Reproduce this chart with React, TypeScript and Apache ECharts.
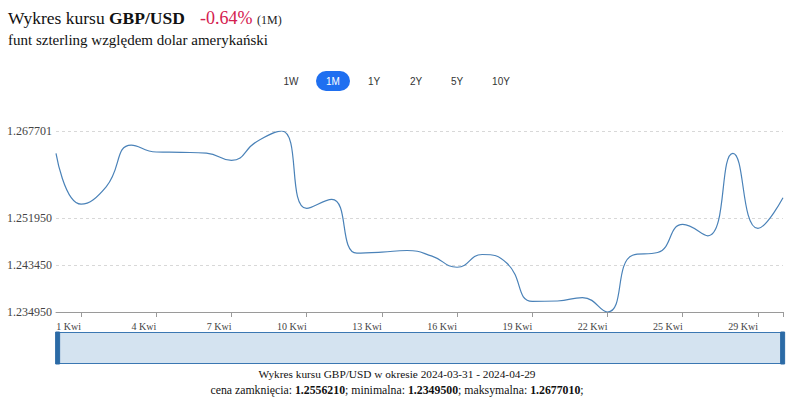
import React, { useEffect, useRef } from "react";
import * as echarts from "echarts";

const categories: string[] = [
  "31 Mar", "1 Kwi", "2 Kwi", "3 Kwi", "4 Kwi", "5 Kwi", "6 Kwi", "7 Kwi", "8 Kwi", "9 Kwi",
  "10 Kwi", "11 Kwi", "12 Kwi", "13 Kwi", "14 Kwi", "15 Kwi", "16 Kwi", "17 Kwi", "18 Kwi", "19 Kwi",
  "20 Kwi", "21 Kwi", "22 Kwi", "23 Kwi", "24 Kwi", "25 Kwi", "26 Kwi", "28 Kwi", "29 Kwi", "30 Kwi",
];

const rates: number[] = [
  1.26366, 1.25447, 1.25761, 1.26516, 1.2639, 1.26384, 1.26371, 1.26239, 1.26576, 1.267701,
  1.25369, 1.25532, 1.24559, 1.24577, 1.24608, 1.24505, 1.24305, 1.24535, 1.24372, 1.23689,
  1.23694, 1.23756, 1.23495, 1.24523, 1.24572, 1.25079, 1.24873, 1.26366, 1.25007, 1.255621,
];

const yTicks: number[] = [1.23495, 1.24345, 1.25195, 1.267701];
const yMin = 1.23495;
const yMax = 1.267701;

const rangeButtons: string[] = ["1W", "1M", "1Y", "2Y", "5Y", "10Y"];
const activeButton = "1M";

const SERIF = "'Liberation Serif', 'DejaVu Serif', serif";
const SANS = "'Liberation Sans', Arial, sans-serif";

export default function App() {
  const ref = useRef<HTMLDivElement>(null);

  useEffect(() => {
    if (!ref.current) return;
    const chart = echarts.init(ref.current, undefined, { renderer: "svg" });

    const btnCenters = [291, 333, 374, 416, 457, 501];
    const buttonGraphics: any[] = [];
    rangeButtons.forEach((b, i) => {
      const active = b === activeButton;
      if (active) {
        buttonGraphics.push({
          type: "rect",
          shape: { x: btnCenters[i] - 17, y: 71, width: 34, height: 20, r: 10 },
          style: { fill: "#1f6ff0" },
        });
      }
      buttonGraphics.push({
        type: "text",
        style: {
          x: btnCenters[i],
          y: 81,
          text: b,
          fill: active ? "#ffffff" : "#333333",
          font: `10px ${SANS}`,
          align: "center",
          verticalAlign: "middle",
        },
      });
    });

    const option: any = {
      animation: false,
      backgroundColor: "#ffffff",
      grid: { left: 56, right: 22, top: 131, bottom: 95, containLabel: false },
      xAxis: {
        type: "category",
        data: categories,
        boundaryGap: false,
        axisLine: { lineStyle: { color: "#9a9a9a", width: 1 } },
        axisTick: {
          lineStyle: { color: "#9a9a9a" },
          length: 5,
          interval: (i: number) => i === categories.length - 1 || (i >= 1 && (i - 1) % 3 === 0),
        },
        axisLabel: {
          interval: (i: number) => i >= 1 && (i - 1) % 3 === 0,
          align: "right",
          color: "#444",
          fontFamily: SERIF,
          fontSize: 10,
          margin: 9,
        },
        splitLine: { show: false },
      },
      yAxis: {
        type: "value",
        min: yMin,
        max: yMax,
        axisLine: { show: false },
        axisTick: { show: false, customValues: yTicks },
        axisLabel: {
          customValues: yTicks,
          formatter: (v: number) => v.toFixed(6),
          color: "#444",
          fontFamily: SERIF,
          fontSize: 12,
          margin: 4,
        },
        splitLine: { lineStyle: { color: "#d8d8d8", type: [3, 3] } },
      },
      dataZoom: [
        {
          type: "slider",
          xAxisIndex: 0,
          start: 0,
          end: 100,
          left: 56,
          right: 22,
          top: 332,
          height: 32,
          showDataShadow: false,
          showDetail: false,
          brushSelect: false,
          moveHandleSize: 0,
          backgroundColor: "rgba(0,0,0,0)",
          borderColor: "#3a77b2",
          fillerColor: "rgba(170,200,226,0.5)",
          handleIcon: "path://M0,0 L4,0 L4,32 L0,32 Z",
          handleSize: "100%",
          handleStyle: { color: "#2c6ba6", borderColor: "#2c6ba6" },
          dataBackground: { lineStyle: { opacity: 0 }, areaStyle: { opacity: 0 } },
        },
      ],
      series: [
        {
          type: "line",
          data: rates,
          smooth: true,
          symbol: "none",
          lineStyle: { color: "#4a82b8", width: 1.2 },
        },
      ],
      graphic: [
        {
          type: "text",
          left: 8,
          top: 9,
          style: {
            text: "{a|Wykres kursu }{b|GBP/USD}",
            rich: {
              a: { fontFamily: SERIF, fontSize: 17.5, fill: "#111" },
              b: { fontFamily: SERIF, fontSize: 17.5, fontWeight: "bold", fill: "#111" },
            },
          },
        },
        {
          type: "text",
          left: 200,
          top: 9,
          style: {
            text: "-0.64%",
            font: `18px ${SERIF}`,
            fill: "#d4204f",
          },
        },
        {
          type: "text",
          left: 257,
          top: 14,
          style: {
            text: "(1M)",
            font: `12px ${SERIF}`,
            fill: "#222",
          },
        },
        {
          type: "text",
          left: 8,
          top: 32,
          style: {
            text: "funt szterling względem dolar amerykański",
            font: `15px ${SERIF}`,
            fill: "#111",
          },
        },
        ...buttonGraphics,
        {
          type: "text",
          style: {
            x: 397,
            y: 374,
            text: "Wykres kursu GBP/USD w okresie 2024-03-31 - 2024-04-29",
            font: `11.3px ${SERIF}`,
            fill: "#111",
            align: "center",
            verticalAlign: "middle",
          },
        },
        {
          type: "text",
          style: {
            x: 397,
            y: 390,
            text:
              "{n|cena zamknięcia: }{b|1.2556210}{n|; minimalna: }{b|1.2349500}{n|; maksymalna: }{b|1.2677010}{n|;}",
            align: "center",
            verticalAlign: "middle",
            rich: {
              n: { fontFamily: SERIF, fontSize: 11.8, fill: "#111" },
              b: { fontFamily: SERIF, fontSize: 11.8, fontWeight: "bold", fill: "#111" },
            },
          },
        },
      ],
    };

    chart.setOption(option);
    return () => chart.dispose();
  }, []);

  return (
    <div
      ref={ref}
      style={{ position: "absolute", left: 0, top: 0, width: 805, height: 407 }}
    />
  );
}
